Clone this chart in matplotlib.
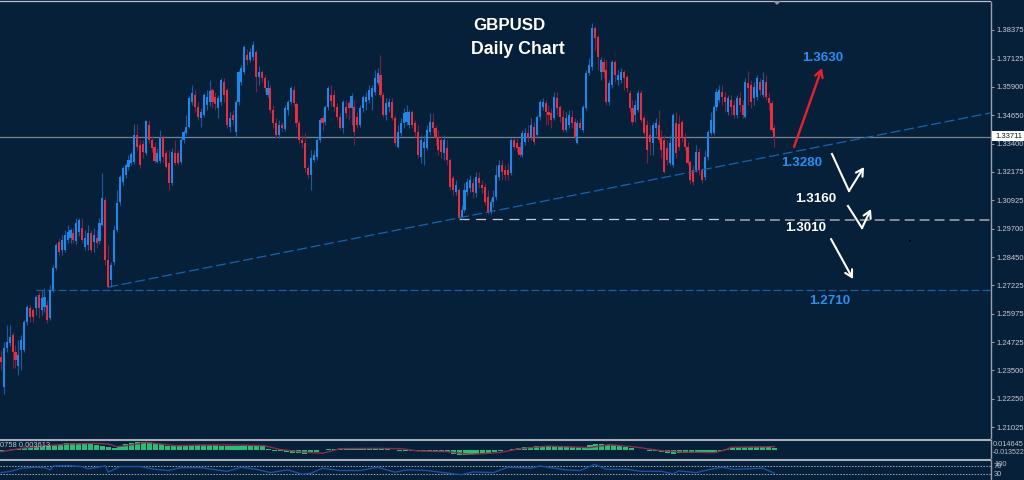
import numpy as np
import matplotlib
matplotlib.use("Agg")
import matplotlib.pyplot as plt

# daily candles
opens = [
    1.2408, 1.2277, 1.2448, 1.2470, 1.2505, 1.2430, 1.2369, 1.2439, 1.2439, 1.2561,
    1.2623, 1.2614, 1.2623, 1.2680, 1.2614, 1.2627, 1.2636, 1.2579, 1.2701, 1.2797,
    1.2911, 1.2876, 1.2876, 1.2920, 1.2928, 1.2950, 1.2915, 1.2955, 1.2972, 1.2889,
    1.2898, 1.2950, 1.2911, 1.2928, 1.2915, 1.2985, 1.3095, 1.2832, 1.2745, 1.2824,
    1.2963, 1.3086, 1.3173, 1.3204, 1.3239, 1.3256, 1.3261, 1.3379, 1.3335, 1.3339,
    1.3300, 1.3422, 1.3357, 1.3326, 1.3261, 1.3265, 1.3370, 1.3300, 1.3256, 1.3169,
    1.3300, 1.3300, 1.3261, 1.3357, 1.3387, 1.3414, 1.3523, 1.3553, 1.3501, 1.3453,
    1.3466, 1.3510, 1.3523, 1.3575, 1.3545, 1.3497, 1.3523, 1.3610, 1.3575, 1.3414,
    1.3466, 1.3392, 1.3523, 1.3610, 1.3654, 1.3728, 1.3706, 1.3720, 1.3741, 1.3632,
    1.3654, 1.3628, 1.3553, 1.3584, 1.3488, 1.3431, 1.3379, 1.3422, 1.3405, 1.3488,
    1.3523, 1.3575, 1.3514, 1.3431, 1.3357, 1.3344, 1.3234, 1.3204, 1.3269, 1.3282,
    1.3357, 1.3453, 1.3435, 1.3501, 1.3553, 1.3553, 1.3501, 1.3457, 1.3409, 1.3501,
    1.3518, 1.3497, 1.3501, 1.3457, 1.3422, 1.3497, 1.3523, 1.3532, 1.3545, 1.3567,
    1.3606, 1.3641, 1.3553, 1.3466, 1.3501, 1.3523, 1.3453, 1.3326, 1.3387, 1.3431,
    1.3435, 1.3422, 1.3479, 1.3431, 1.3392, 1.3282, 1.3322, 1.3322, 1.3392, 1.3435,
    1.3409, 1.3366, 1.3357, 1.3300, 1.3322, 1.3269, 1.3191, 1.3130, 1.3138, 1.3016,
    1.3051, 1.3130, 1.3147, 1.3169, 1.3125, 1.3191, 1.3160, 1.3151, 1.3108, 1.3042,
    1.3086, 1.3108, 1.3195, 1.3248, 1.3226, 1.3226, 1.3213, 1.3357, 1.3344, 1.3326,
    1.3291, 1.3348, 1.3387, 1.3370, 1.3414, 1.3379, 1.3457, 1.3501, 1.3518, 1.3479,
    1.3475, 1.3453, 1.3540, 1.3501, 1.3457, 1.3400, 1.3422, 1.3457, 1.3435, 1.3344,
    1.3431, 1.3400, 1.3497, 1.3650, 1.3676, 1.3846, 1.3807, 1.3654, 1.3698, 1.3663,
    1.3523, 1.3597, 1.3698, 1.3619, 1.3619, 1.3654, 1.3632, 1.3562, 1.3497, 1.3466,
    1.3488, 1.3562, 1.3453, 1.3422, 1.3379, 1.3344, 1.3409, 1.3422, 1.3370, 1.3357,
    1.3322, 1.3256, 1.3248, 1.3431, 1.3427, 1.3435, 1.3370, 1.3326, 1.3261, 1.3226,
    1.3226, 1.3304, 1.3226, 1.3195, 1.3282, 1.3387, 1.3387, 1.3501, 1.3532, 1.3567,
    1.3545, 1.3479, 1.3532, 1.3510, 1.3466, 1.3540, 1.3510, 1.3457, 1.3606, 1.3597,
    1.3540, 1.3545, 1.3610, 1.3553, 1.3610, 1.3540, 1.3518, 1.3409,
]
closes = [
    1.2387, 1.2448, 1.2474, 1.2496, 1.2430, 1.2395, 1.2417, 1.2483, 1.2561, 1.2627,
    1.2583, 1.2583, 1.2671, 1.2623, 1.2666, 1.2671, 1.2570, 1.2701, 1.2797, 1.2898,
    1.2867, 1.2920, 1.2942, 1.2955, 1.2963, 1.2920, 1.2994, 1.3007, 1.2920, 1.2928,
    1.2950, 1.2876, 1.2942, 1.2907, 1.2994, 1.3103, 1.2832, 1.2714, 1.2810, 1.2963,
    1.3081, 1.3195, 1.3234, 1.3248, 1.3269, 1.3295, 1.3379, 1.3326, 1.3248, 1.3304,
    1.3440, 1.3357, 1.3322, 1.3265, 1.3300, 1.3366, 1.3282, 1.3239, 1.3169, 1.3304,
    1.3256, 1.3256, 1.3357, 1.3392, 1.3414, 1.3540, 1.3562, 1.3501, 1.3457, 1.3479,
    1.3553, 1.3545, 1.3571, 1.3523, 1.3514, 1.3540, 1.3619, 1.3553, 1.3422, 1.3453,
    1.3444, 1.3523, 1.3654, 1.3671, 1.3763, 1.3706, 1.3741, 1.3772, 1.3632, 1.3654,
    1.3628, 1.3584, 1.3584, 1.3488, 1.3431, 1.3379, 1.3422, 1.3409, 1.3497, 1.3523,
    1.3584, 1.3518, 1.3431, 1.3357, 1.3344, 1.3234, 1.3204, 1.3278, 1.3291, 1.3357,
    1.3444, 1.3431, 1.3501, 1.3584, 1.3527, 1.3501, 1.3457, 1.3409, 1.3523, 1.3475,
    1.3497, 1.3549, 1.3392, 1.3422, 1.3497, 1.3545, 1.3545, 1.3575, 1.3584, 1.3628,
    1.3650, 1.3553, 1.3466, 1.3518, 1.3523, 1.3453, 1.3344, 1.3392, 1.3431, 1.3475,
    1.3479, 1.3479, 1.3422, 1.3392, 1.3291, 1.3357, 1.3348, 1.3400, 1.3435, 1.3409,
    1.3366, 1.3313, 1.3304, 1.3357, 1.3269, 1.3151, 1.3138, 1.3160, 1.3016, 1.3051,
    1.3138, 1.3173, 1.3182, 1.3130, 1.3195, 1.3169, 1.3147, 1.3086, 1.3042, 1.3086,
    1.3108, 1.3204, 1.3248, 1.3217, 1.3204, 1.3204, 1.3357, 1.3326, 1.3322, 1.3291,
    1.3387, 1.3387, 1.3366, 1.3422, 1.3348, 1.3457, 1.3523, 1.3523, 1.3479, 1.3466,
    1.3444, 1.3545, 1.3497, 1.3457, 1.3400, 1.3453, 1.3466, 1.3431, 1.3370, 1.3431,
    1.3409, 1.3501, 1.3650, 1.3685, 1.3846, 1.3803, 1.3720, 1.3706, 1.3654, 1.3523,
    1.3606, 1.3698, 1.3641, 1.3641, 1.3654, 1.3628, 1.3584, 1.3497, 1.3435, 1.3510,
    1.3562, 1.3444, 1.3387, 1.3313, 1.3348, 1.3422, 1.3431, 1.3357, 1.3313, 1.3217,
    1.3269, 1.3344, 1.3466, 1.3300, 1.3326, 1.3366, 1.3326, 1.3256, 1.3182, 1.3173,
    1.3304, 1.3226, 1.3182, 1.3282, 1.3392, 1.3444, 1.3501, 1.3567, 1.3575, 1.3545,
    1.3523, 1.3540, 1.3501, 1.3466, 1.3540, 1.3510, 1.3466, 1.3610, 1.3584, 1.3523,
    1.3588, 1.3628, 1.3575, 1.3619, 1.3545, 1.3518, 1.3400, 1.3370,
]
highs = [
    1.2439, 1.2474, 1.2548, 1.2548, 1.2518, 1.2461, 1.2483, 1.2505, 1.2570, 1.2636,
    1.2636, 1.2623, 1.2680, 1.2693, 1.2701, 1.2710, 1.2658, 1.2723, 1.2810, 1.2907,
    1.2928, 1.2942, 1.2963, 1.2985, 1.2972, 1.2972, 1.3016, 1.3016, 1.3016, 1.2963,
    1.2985, 1.2963, 1.2972, 1.2963, 1.3016, 1.3213, 1.3108, 1.2898, 1.2824, 1.2985,
    1.3138, 1.3204, 1.3243, 1.3256, 1.3291, 1.3304, 1.3427, 1.3427, 1.3357, 1.3357,
    1.3444, 1.3444, 1.3379, 1.3348, 1.3322, 1.3400, 1.3379, 1.3313, 1.3313, 1.3322,
    1.3357, 1.3313, 1.3366, 1.3400, 1.3466, 1.3549, 1.3597, 1.3575, 1.3523, 1.3497,
    1.3562, 1.3575, 1.3619, 1.3584, 1.3567, 1.3553, 1.3628, 1.3628, 1.3584, 1.3479,
    1.3488, 1.3532, 1.3663, 1.3685, 1.3772, 1.3754, 1.3759, 1.3789, 1.3750, 1.3680,
    1.3663, 1.3641, 1.3619, 1.3597, 1.3510, 1.3453, 1.3444, 1.3435, 1.3510, 1.3532,
    1.3593, 1.3593, 1.3523, 1.3444, 1.3379, 1.3387, 1.3248, 1.3313, 1.3313, 1.3366,
    1.3453, 1.3466, 1.3510, 1.3593, 1.3597, 1.3575, 1.3518, 1.3475, 1.3532, 1.3532,
    1.3532, 1.3562, 1.3532, 1.3479, 1.3510, 1.3553, 1.3567, 1.3597, 1.3597, 1.3663,
    1.3671, 1.3728, 1.3567, 1.3540, 1.3540, 1.3540, 1.3466, 1.3422, 1.3453, 1.3497,
    1.3510, 1.3488, 1.3488, 1.3444, 1.3422, 1.3379, 1.3379, 1.3422, 1.3475, 1.3475,
    1.3422, 1.3400, 1.3379, 1.3379, 1.3357, 1.3278, 1.3204, 1.3182, 1.3147, 1.3073,
    1.3169, 1.3191, 1.3204, 1.3191, 1.3217, 1.3217, 1.3182, 1.3169, 1.3138, 1.3103,
    1.3138, 1.3248, 1.3269, 1.3269, 1.3248, 1.3256, 1.3366, 1.3366, 1.3366, 1.3348,
    1.3400, 1.3409, 1.3422, 1.3453, 1.3435, 1.3466, 1.3532, 1.3540, 1.3532, 1.3510,
    1.3497, 1.3567, 1.3567, 1.3510, 1.3488, 1.3479, 1.3488, 1.3488, 1.3453, 1.3444,
    1.3453, 1.3510, 1.3663, 1.3715, 1.3868, 1.3855, 1.3816, 1.3720, 1.3715, 1.3706,
    1.3619, 1.3706, 1.3706, 1.3663, 1.3671, 1.3663, 1.3641, 1.3575, 1.3532, 1.3532,
    1.3575, 1.3575, 1.3466, 1.3444, 1.3422, 1.3435, 1.3453, 1.3488, 1.3400, 1.3379,
    1.3357, 1.3379, 1.3475, 1.3479, 1.3466, 1.3444, 1.3387, 1.3348, 1.3269, 1.3248,
    1.3335, 1.3322, 1.3234, 1.3313, 1.3400, 1.3479, 1.3510, 1.3584, 1.3597, 1.3597,
    1.3567, 1.3553, 1.3553, 1.3532, 1.3553, 1.3567, 1.3532, 1.3628, 1.3658, 1.3619,
    1.3610, 1.3641, 1.3628, 1.3654, 1.3641, 1.3562, 1.3532, 1.3422,
]
lows = [
    1.2352, 1.2247, 1.2430, 1.2457, 1.2360, 1.2360, 1.2330, 1.2352, 1.2430, 1.2548,
    1.2561, 1.2561, 1.2592, 1.2579, 1.2592, 1.2605, 1.2557, 1.2570, 1.2693, 1.2789,
    1.2850, 1.2854, 1.2867, 1.2907, 1.2907, 1.2907, 1.2902, 1.2937, 1.2907, 1.2876,
    1.2876, 1.2867, 1.2867, 1.2885, 1.2902, 1.2981, 1.2810, 1.2710, 1.2714, 1.2810,
    1.2955, 1.3073, 1.3160, 1.3191, 1.3226, 1.3248, 1.3252, 1.3313, 1.3234, 1.3278,
    1.3291, 1.3344, 1.3304, 1.3256, 1.3256, 1.3256, 1.3261, 1.3234, 1.3138, 1.3160,
    1.3248, 1.3248, 1.3252, 1.3344, 1.3379, 1.3409, 1.3510, 1.3479, 1.3444, 1.3414,
    1.3457, 1.3488, 1.3506, 1.3497, 1.3488, 1.3453, 1.3510, 1.3523, 1.3409, 1.3392,
    1.3422, 1.3370, 1.3510, 1.3597, 1.3645, 1.3685, 1.3698, 1.3706, 1.3567, 1.3597,
    1.3610, 1.3567, 1.3545, 1.3475, 1.3409, 1.3366, 1.3366, 1.3392, 1.3396, 1.3466,
    1.3514, 1.3506, 1.3414, 1.3344, 1.3322, 1.3217, 1.3191, 1.3138, 1.3261, 1.3269,
    1.3348, 1.3400, 1.3422, 1.3488, 1.3506, 1.3484, 1.3444, 1.3400, 1.3387, 1.3453,
    1.3444, 1.3422, 1.3335, 1.3409, 1.3414, 1.3479, 1.3488, 1.3518, 1.3488, 1.3553,
    1.3597, 1.3545, 1.3457, 1.3444, 1.3479, 1.3444, 1.3331, 1.3322, 1.3374, 1.3409,
    1.3422, 1.3409, 1.3409, 1.3370, 1.3278, 1.3256, 1.3248, 1.3313, 1.3379, 1.3392,
    1.3335, 1.3291, 1.3278, 1.3269, 1.3248, 1.3138, 1.3116, 1.3116, 1.3012, 1.3012,
    1.3042, 1.3116, 1.3130, 1.3103, 1.3108, 1.3147, 1.3125, 1.3073, 1.3033, 1.3033,
    1.3064, 1.3095, 1.3182, 1.3182, 1.3182, 1.3182, 1.3204, 1.3313, 1.3304, 1.3282,
    1.3282, 1.3335, 1.3348, 1.3357, 1.3335, 1.3366, 1.3444, 1.3488, 1.3422, 1.3422,
    1.3409, 1.3444, 1.3466, 1.3435, 1.3392, 1.3392, 1.3409, 1.3409, 1.3357, 1.3339,
    1.3400, 1.3392, 1.3488, 1.3641, 1.3663, 1.3750, 1.3663, 1.3619, 1.3628, 1.3510,
    1.3510, 1.3584, 1.3610, 1.3597, 1.3606, 1.3575, 1.3567, 1.3479, 1.3422, 1.3435,
    1.3479, 1.3435, 1.3379, 1.3256, 1.3291, 1.3291, 1.3379, 1.3344, 1.3278, 1.3213,
    1.3248, 1.3248, 1.3239, 1.3278, 1.3313, 1.3348, 1.3313, 1.3248, 1.3165, 1.3160,
    1.3217, 1.3204, 1.3169, 1.3182, 1.3269, 1.3379, 1.3379, 1.3488, 1.3523, 1.3510,
    1.3479, 1.3466, 1.3466, 1.3453, 1.3453, 1.3479, 1.3453, 1.3453, 1.3510, 1.3497,
    1.3510, 1.3532, 1.3553, 1.3545, 1.3532, 1.3488, 1.3392, 1.3326,
]

# MACD sub-window
macd_hist = [
    -.0018, -.0006, .0006, .0018, .0030, .0042, .0042, .0054, .0066, .0090,
    .0102, .0114, .0120, .0114, .0108, .0102, .0090, .0072, .0048, .0030,
    .0066, .0102, .0120, .0132, .0144, .0138, .0120, .0096, .0072, .0066,
    .0066, .0072, .0084, .0084, .0084, .0084, .0078, .0072, .0066, .0060,
    .0066, .0078, .0072, .0066, .0060, .0018, -.0018, -.0024, -.0036, -.0054,
    -.0066, -.0078, -.0066, -.0036, -.0006, .0012, .0012,
    .0012, .0006, .0006, .0006, .0006, .0018, .0036, .0030, .0018, .0000,
    -.0018, -.0018, -.0024, -.0030, -.0030, -.0030, -.0030, -.0030, -.0048, -.0078,
    -.0102, -.0102, -.0090, -.0084, -.0078, -.0066, -.0048, -.0030, .0000, .0018,
    .0036, .0042, .0054, .0060, .0072, .0066, .0066, .0060, .0060, .0048,
    .0042, .0048, .0084, .0102, .0096, .0090, .0084, .0072, .0054, .0024,
    .0000, -.0012, -.0024, -.0030, -.0048, -.0066, -.0078,
    -.0060, -.0060, -.0066, -.0066, -.0066, -.0066, -.0066, -.0030, .0018, .0054,
    .0048, .0042, .0042, .0042, .0042, .0042, .0036,
]
signal_bars = [0, 7, 16, 23, 32, 37, 40, 44, 50, 55, 60, 69, 81, 91, 96, 104, 111, 117,
               129, 138, 144, 154, 162, 172, 179, 189, 203, 210, 218, 228, 235, 246,
               250, 252, 267]
signal_vals = [-.0048, .0012, .0060, .0090, .0102, .0090, .0042, .0066, .0120, .0090,
               .0060, .0072, .0072, .0060, -.0006, -.0054, -.0078, .0006, .0012, .0006,
               -.0036, -.0048, -.0096, -.0066, .0006, .0054, .0024, .0078, .0042, -.0030,
               -.0054, -.0066, -.0018, .0030, .0042]

# RSI sub-window
rsi_bars = [0, 3, 7, 12, 15, 17, 18, 23, 28, 30, 36, 37, 41, 48, 53, 58, 62, 69, 78, 83,
            88, 93, 99, 104, 107, 111, 117, 124, 130, 136, 140, 147, 156, 159, 163, 170,
            175, 183, 186, 195, 200, 205, 209, 216, 221, 228, 232, 234, 240, 245, 249,
            253, 263, 267]
rsi_vals = [38, 43, 59, 64, 62, 51, 70, 72, 67, 56, 70, 40, 67, 67, 54, 48, 62, 62, 44, 64,
            54, 38, 51, 30, 35, 59, 48, 48, 64, 40, 51, 48, 32, 28, 41, 38,
            64, 60, 70, 51, 48, 78, 54, 54, 44, 44, 32, 46, 38, 54, 64,
            54, 59, 35]

price_ticks = [1.38375, 1.37125, 1.35900, 1.34650, 1.33400, 1.32175, 1.30925, 1.29700,
               1.28450, 1.27225, 1.25975, 1.24725, 1.23500, 1.22250, 1.21025]
last_price = 1.33711

BG = "#06203a"
BLUE = "#1f87e8"
RED = "#e62e43"
W, H = 1024, 480


def axes_rect(left, right, top, bottom):
    return [left / W, 1 - bottom / H, (right - left) / W, (bottom - top) / H]


def fig_px(x, y):
    return (x, H - y)


fig = plt.figure(figsize=(W / 100, H / 100), dpi=100, facecolor=BG)
plt.rcParams["font.family"] = ["Liberation Sans", "DejaVu Sans"]

ax = fig.add_axes(axes_rect(0, 990.5, 1.5, 438), facecolor=BG)
ax_macd = fig.add_axes(axes_rect(0, 990.5, 440, 458), facecolor=BG)
ax_rsi = fig.add_axes(axes_rect(0, 990.5, 459.8, 480), facecolor=BG)

XMIN, XMAX = -0.35, 341.6
for a in (ax, ax_macd, ax_rsi):
    a.set_xlim(XMIN, XMAX)
    a.set_xticks([])
    for side in ("left", "bottom"):
        a.spines[side].set_visible(False)
    a.spines["right"].set_color("#98a1ae")
    a.spines["right"].set_linewidth(1.0)
    a.spines["top"].set_color("#a9afb9")
    a.spines["top"].set_linewidth(1.5)
    a.yaxis.tick_right()
ax.spines["top"].set_linewidth(0.9)
ax.spines["top"].set_color("#b9c2d2")

# price panel
ax.set_ylim(1.20545, 1.39620)
ax.set_yticks(price_ticks)
ax.set_yticklabels([f"{t:.5f}" for t in price_ticks])
ax.tick_params(axis="y", length=2.2, width=0.7, color="#98a1ae", labelcolor="#c9cdd3",
               labelsize=5.5, pad=2.0)

opens_a, closes_a = np.array(opens), np.array(closes)
highs_a, lows_a = np.array(highs), np.array(lows)
bars = np.arange(len(closes_a))
up = closes_a >= opens_a

ax.vlines(bars[up], lows_a[up], highs_a[up], color="#1c5c9c", lw=0.8, zorder=2)
ax.vlines(bars[~up], lows_a[~up], highs_a[~up], color="#7a2340", lw=0.8, zorder=2)
ax.bar(bars[up], (closes_a - opens_a)[up], bottom=opens_a[up], width=0.72, color=BLUE, zorder=3)
ax.bar(bars[~up], (closes_a - opens_a)[~up], bottom=opens_a[~up], width=0.72, color=RED, zorder=3)

# levels and trend line
ax.axhline(last_price, color="#77838f", lw=0.9, zorder=1)
ax.plot([37, XMAX], [1.2714, 1.3475], color="#1a63ab", lw=0.9, dashes=(8, 3), zorder=4)
ax.plot([12, XMAX], [1.2703, 1.2703], color="#1a5f9f", lw=0.9, dashes=(6.4, 2.4), zorder=1)
ax.plot([158, 249], [1.3012, 1.3012], color="#c8ccd2", lw=0.9, dashes=(8, 5.3), zorder=1)
ax.plot([250, XMAX], [1.3007, 1.3007], color="#858c96", lw=1.4, dashes=(5.1, 2.6), zorder=1)

# last price tag
fig.add_artist(plt.Rectangle((992 / W, 1 - 141 / H), 32 / W, 10 / H, fc="white", ec="none", zorder=5))
fig.text(995 / W, 1 - 136.5 / H, f"{last_price:.5f}", fontsize=5.5, color="#10151c", va="center", zorder=6)

# MACD
ax_macd.set_ylim(-0.0162, 0.0162)
ax_macd.set_yticks([])
hist_x = np.linspace(0, len(closes) - 1, len(macd_hist))
ax_macd.bar(hist_x, macd_hist, bottom=-0.0012, width=1.75, color="#27bf76", zorder=2)
ax_macd.plot(signal_bars, signal_vals, color="#8f2b4c", lw=1.0, zorder=3)
ax_macd.text(0, 0.67, "0758 0.003613", transform=ax_macd.transAxes, fontsize=5.4, color="#bcc4cc",
             ha="left", va="center", zorder=4)
fig.text(993 / W, 1 - 445 / H, "0.014645", fontsize=5.3, color="#bcc4cc", va="center")
fig.text(993 / W, 1 - 453 / H, "-0.013522", fontsize=5.0, color="#bcc4cc", va="center")

# RSI
ax_rsi.set_ylim(2, 100)
ax_rsi.set_yticks([])
ax_rsi.axhline(70, color="#a7adb6", lw=0.7, ls=(0, (1.5, 1.5)), zorder=1)
ax_rsi.axhline(30, color="#a7adb6", lw=0.7, ls=(0, (1.5, 1.5)), zorder=1)
ax_rsi.plot(rsi_bars, rsi_vals, color="#1d4fa6", lw=1.0, zorder=2)
for txt, xp, yp in [("100", 994, 464), ("70", 994, 466), ("30", 994, 475)]:
    fig.text(xp / W, 1 - yp / H, txt, fontsize=5.4, color="#bcc4cc", va="center")

# chart titles and target labels
fig.text(473 / W, 1 - 26 / H, "GBPUSD", fontsize=12.2, fontweight="bold", color="white", va="center")
fig.text(471 / W, 1 - 50 / H, "Daily Chart", fontsize=12.8, fontweight="bold", color="white", va="center")
for txt, xp, yp, col in [("1.3630", 802, 58, "#2a8ff0"), ("1.3280", 781, 163, "#2a8ff0"),
                         ("1.3160", 795, 199, "white"), ("1.3010", 785, 228, "white"),
                         ("1.2710", 809, 301, "#2a8ff0")]:
    fig.text(xp / W, 1 - yp / H, txt, fontsize=9.6, fontweight="bold", color=col, va="center")


def arrow(path, color, lw=1.5):
    # polyline in image pixels, last leg gets the open arrow head
    xs = [p[0] for p in path[:-1]]
    ys = [H - p[1] for p in path[:-1]]
    if len(xs) > 1:
        fig.add_artist(plt.Line2D(np.array(xs) / W, np.array(ys) / H, color=color, lw=lw))
    ax.annotate("", xy=fig_px(*path[-1]), xytext=fig_px(*path[-2]), xycoords="figure pixels",
                textcoords="figure pixels",
                arrowprops=dict(arrowstyle="->,head_length=0.5,head_width=0.28", color=color, lw=lw,
                                shrinkA=0, shrinkB=0), annotation_clip=False)


arrow([(794, 147), (822, 68)], "#e8202e", 1.7)
arrow([(832, 154), (849, 191), (864, 167)], "white")
arrow([(848, 206), (862, 228), (871, 209)], "white")
arrow([(831, 239), (853, 279)], "white")

# small marks from the terminal window
fig.add_artist(plt.Polygon([[773 / W, 1 - 1 / H], [781 / W, 1 - 1 / H], [777 / W, 1 - 5 / H]],
                           closed=True, fc="#8f97a3", ec="none"))
fig.add_artist(plt.Rectangle((909 / W, 1 - 242 / H), 2 / W, 2 / H, fc="black", ec="none"))

fig.savefig("out.png", dpi=100, facecolor=BG)
